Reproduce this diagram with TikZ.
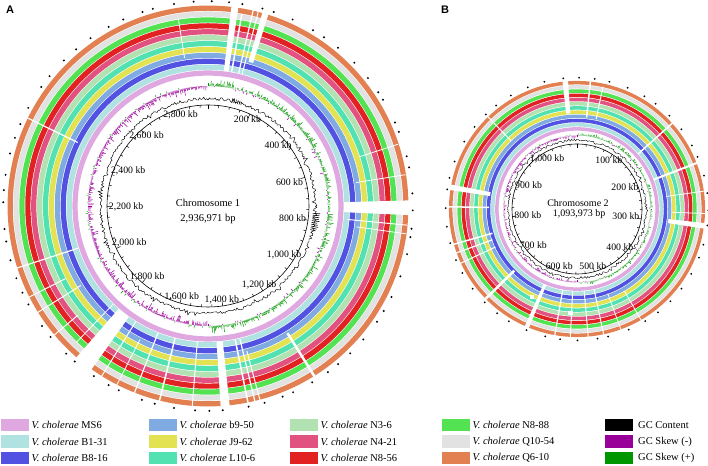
\documentclass[tikz,border=0pt]{standalone}
\usepackage{fontspec}
\setmainfont{Liberation Serif}
\setsansfont{Liberation Sans}
\definecolor{cMS}{RGB}{224,168,224}
\definecolor{cBA}{RGB}{176,226,226}
\definecolor{cBB}{RGB}{82,82,226}
\definecolor{cb}{RGB}{128,170,226}
\definecolor{cJ}{RGB}{226,226,82}
\definecolor{cL}{RGB}{82,226,178}
\definecolor{cNA}{RGB}{178,226,178}
\definecolor{cNB}{RGB}{226,82,128}
\definecolor{cNC}{RGB}{226,34,34}
\definecolor{cND}{RGB}{82,226,82}
\definecolor{cQA}{RGB}{226,226,226}
\definecolor{cQB}{RGB}{226,128,82}
\definecolor{skneg}{RGB}{153,0,153}
\definecolor{skpos}{RGB}{0,150,0}
\tikzset{
  swatch/.style={minimum width=28pt,minimum height=12pt,inner sep=0pt,anchor=west},
  legtext/.style={anchor=west,inner sep=0pt,font=\fontsize{10.5}{12}\selectfont},
  ticklab/.style={inner sep=1.2pt,font=\fontsize{9.8}{11}\selectfont},
  gapline/.style={white},
}
\newcommand\drawrings[2]{%
  \foreach \c [count=\k from 0] in {cMS,cBA,cBB,cb,cJ,cL,cNA,cNB,cNC,cND,cQA,cQB}{%
    \pgfmathsetmacro\ra{#1+\k*#2+0.35}%
    \pgfmathsetmacro\rb{#1+(\k+1)*#2-0.35}%
    \fill[\c,even odd rule] (0,0) circle (\rb) (0,0) circle (\ra);
  }}
\newcommand\gapwedge[4]{%
  \fill[white] (#1:#3) -- (#1:#4) arc[start angle=#1,end angle=#2,radius=#4] -- (#2:#3) arc[start angle=#2,end angle=#1,radius=#3] -- cycle;}
\newcommand\gapln[4]{\draw[gapline,line width=#2] (#1:#3) -- (#1:#4);}
\newcommand\skewplot[3]{%
  \foreach \i in {1,...,#3}{%
    \pgfmathsetmacro\ang{90-\i/#3*360}%
    \pgfmathsetmacro\sg{ifthenelse(\i<#3/2,1,-1)}%
    \pgfmathsetmacro\fl{ifthenelse(rnd<0.15,-0.5,1)}%
    \pgfmathsetmacro\v{\sg*\fl*#2*(0.15+0.85*rnd*rnd)}%
    \pgfmathsetmacro\rr{#1+\v}%
    \ifdim\v pt>0pt\def\cc{skpos}\else\def\cc{skneg}\fi
    \draw[\cc,line width=0.5] (\ang:#1) -- (\ang:\rr);
  }}
\newcommand\gcline[4]{% radius, amplitude, samples, width
  \pgfmathsetmacro\gr{#1+#2*(2*rnd-1)}%
  \xdef\gcpath{(0:\gr)}%
  \foreach \i in {1,...,#3}{%
    \pgfmathsetmacro\ga{\i/#3*360}%
    \pgfmathsetmacro\gr{#1+#2*(2*rnd-1)*ifthenelse(rnd<0.08,2.2,1)}%
    \xdef\gcpath{\gcpath -- (\ga:\gr)}}%
  \draw[black,line width=#4] \gcpath -- cycle;}
\begin{document}
\begin{tikzpicture}[x=1pt,y=1pt,every node/.style={inner sep=0pt}]
\pgfmathsetseed{7}
\useasboundingbox (0,0) rectangle (708,465);
\node[font=\sffamily\bfseries\fontsize{11}{12}\selectfont] (labA) at (10,455) {A};
\node[font=\sffamily\bfseries\fontsize{11}{12}\selectfont] (labB) at (445,455) {B};
% ---------------- Chromosome 1
\begin{scope}[shift={(208,259)}]
  \drawrings{130}{5.9}
  \gapwedge{81.3}{83.3}{136.2}{202}
  \gapwedge{72.5}{74.3}{150}{202}
  \gapwedge{-2.6}{1.6}{136.2}{202}
  \gapwedge{229}{234.5}{136.2}{202}
  \gapwedge{273.6}{276.2}{136.2}{202}
  \foreach \a/\w/\ri/\ro in {80/1.5/136.2/195, 77/1.2/136.2/202, 75.5/1/136.2/202, 99/0.8/150/190,
     154/1.2/145/202, 198/1.2/136.2/202, 207/1/160/202, 212/1/150/202, 220/1/170/202,
     248.5/1.2/136.2/202, 256/1.5/136.2/202, 265.5/1/136.2/202, 281.5/1.5/136.2/202,
     283.5/1.2/136.2/202, 285/1/150/202, 302/2.5/150/202, 18/0.8/160/200, 9/0.8/150/200,
     -5.5/1/140/200, -8/0.8/150/200, 238/1/136.2/202, 243/0.8/150/202, 226/0.8/136.2/190}
     {\gapln{\a}{\w}{\ri}{\ro}}
  \skewplot{120}{8}{720}
  \gcline{107.5}{1.5}{480}{0.45}
  \foreach \a in {-4,-5,...,-13}{\pgfmathsetmacro\rr{109+4*rnd}\draw[line width=0.6] (\a:105) -- (\a:\rr);}
  \foreach \a in {72,73,...,77}{\pgfmathsetmacro\rr{109+2*rnd}\draw[line width=0.5] (\a:106) -- (\a:\rr);}
  \draw[line width=0.6] (0,0) circle (101);
  \foreach \k in {0,...,58}{%
    \pgfmathsetmacro\a{90-\k*50/2936.971*360}%
    \pgfmathsetmacro\tl{ifthenelse(mod(\k,4)==0,96.5,98.5)}%
    \draw[line width=0.5] (\a:101) -- (\a:\tl);}
  \foreach \p/\t in {200/200 kb,400/400 kb,600/600 kb,800/800 kb,1000/{1,000 kb},1200/{1,200 kb},
      1400/{1,400 kb},1600/{1,600 kb},1800/{1,800 kb},2000/{2,000 kb},2200/{2,200 kb},
      2400/{2,400 kb},2600/{2,600 kb},2800/{2,800 kb}}{%
    \pgfmathsetmacro\an{mod(90-\p/2936.971*360+720,360)}%
    \node[ticklab,anchor=\an] (c1l\p) at (\an:100.5) {\t};}
  \foreach \a in {0,5,...,355}{\pgfmathsetmacro\da{\a+3*rnd-1.5}\fill (\da:204.8) circle (1.1);}
  \node[font=\fontsize{10.5}{12}\selectfont] (c1t) at (0,3) {Chromosome 1};
  \node[font=\fontsize{10.5}{12}\selectfont] (c1b) at (0,-13) {2,936,971 bp};
\end{scope}
% ---------------- Chromosome 2
\begin{scope}[shift={(577,256)}]
  \drawrings{78}{4.2}
  \gapwedge{94}{96.5}{96}{129}
  \gapwedge{-8.8}{-6.3}{92}{129}
  \gapwedge{246}{248}{82}{129}
  \gapwedge{169}{171.5}{88}{129}
  \foreach \a/\w/\ri/\ro in {84/1.5/92/129, 78/1/92/125, 42/1.5/82/129, 21/2/82/129,
     179/1.5/88/129, 196/1.5/88/129, 200/1.2/90/129, 205/1/90/129, 224.5/2.5/88/129,
     260/1.2/82/129, 267/1/82/129, 275/1/82/129, 282/1/82/129, 134/1/95/129, 8/0.8/90/129,
     -2/0.8/95/129, 290/0.8/90/129, 300/0.8/95/129}
     {\gapln{\a}{\w}{\ri}{\ro}}
  \fill[white] (-9,-106) rectangle ++(5,4);
  \fill[white] (-47,-90) rectangle ++(4,4);
  \skewplot{73.5}{4}{460}
  \gcline{69}{1.1}{320}{0.4}
  \draw[line width=0.6] (0,0) circle (65);
  \foreach \k in {0,...,43}{%
    \pgfmathsetmacro\a{90-\k*25/1093.973*360}%
    \pgfmathsetmacro\tl{ifthenelse(mod(\k,4)==0,61,62.8)}%
    \draw[line width=0.5] (\a:65) -- (\a:\tl);}
  \foreach \p/\t in {100/100 kb,200/200 kb,300/300 kb,400/400 kb,500/500 kb,600/600 kb,
      700/700 kb,800/800 kb,900/900 kb,1000/{1,000 kb}}{%
    \pgfmathsetmacro\an{mod(90-\p/1093.973*360+720,360)}%
    \node[ticklab,anchor=\an] (c2l\p) at (\an:64.5) {\t};}
  \foreach \a in {0,7.5,...,352.5}{\pgfmathsetmacro\da{\a+3*rnd-1.5}\fill (\da:131.3) circle (1.0);}
  \node[font=\fontsize{10}{11}\selectfont] (c2t) at (1,5.5) {Chromosome 2};
  \node[font=\fontsize{10}{11}\selectfont] (c2b) at (2,-5.5) {1,093,973 bp};
\end{scope}
% ---------------- Legend
\foreach \c/\t/\x/\y/\n in {cMS/MS6/1/40/l1, cBA/B1-31/1/23.5/l2, cBB/B8-16/1/7/l3,
   cb/b9-50/149/40/l4, cJ/J9-62/149/23.5/l5, cL/L10-6/149/7/l6,
   cNA/N3-6/290/40/l7, cNB/N4-21/290/23.5/l8, cNC/N8-56/290/7/l9,
   cND/N8-88/442/40/l10, cQA/Q10-54/442/23.5/l11, cQB/Q6-10/442/7/l12}{%
  \node[swatch,fill=\c] (\n s) at (\x,\y) {};
  \node[legtext] (\n t) at (\x+30.5,\y) {\textit{V. cholerae} \t};}
\foreach \c/\t/\y/\n in {black/GC Content/40/g1, skneg/GC Skew (-)/23.5/g2, skpos/GC Skew (+)/7/g3}{%
  \node[swatch,fill=\c] (\n s) at (605,\y) {};
  \node[legtext] (\n t) at (638,\y) {\t};}
\end{tikzpicture}
\end{document}
